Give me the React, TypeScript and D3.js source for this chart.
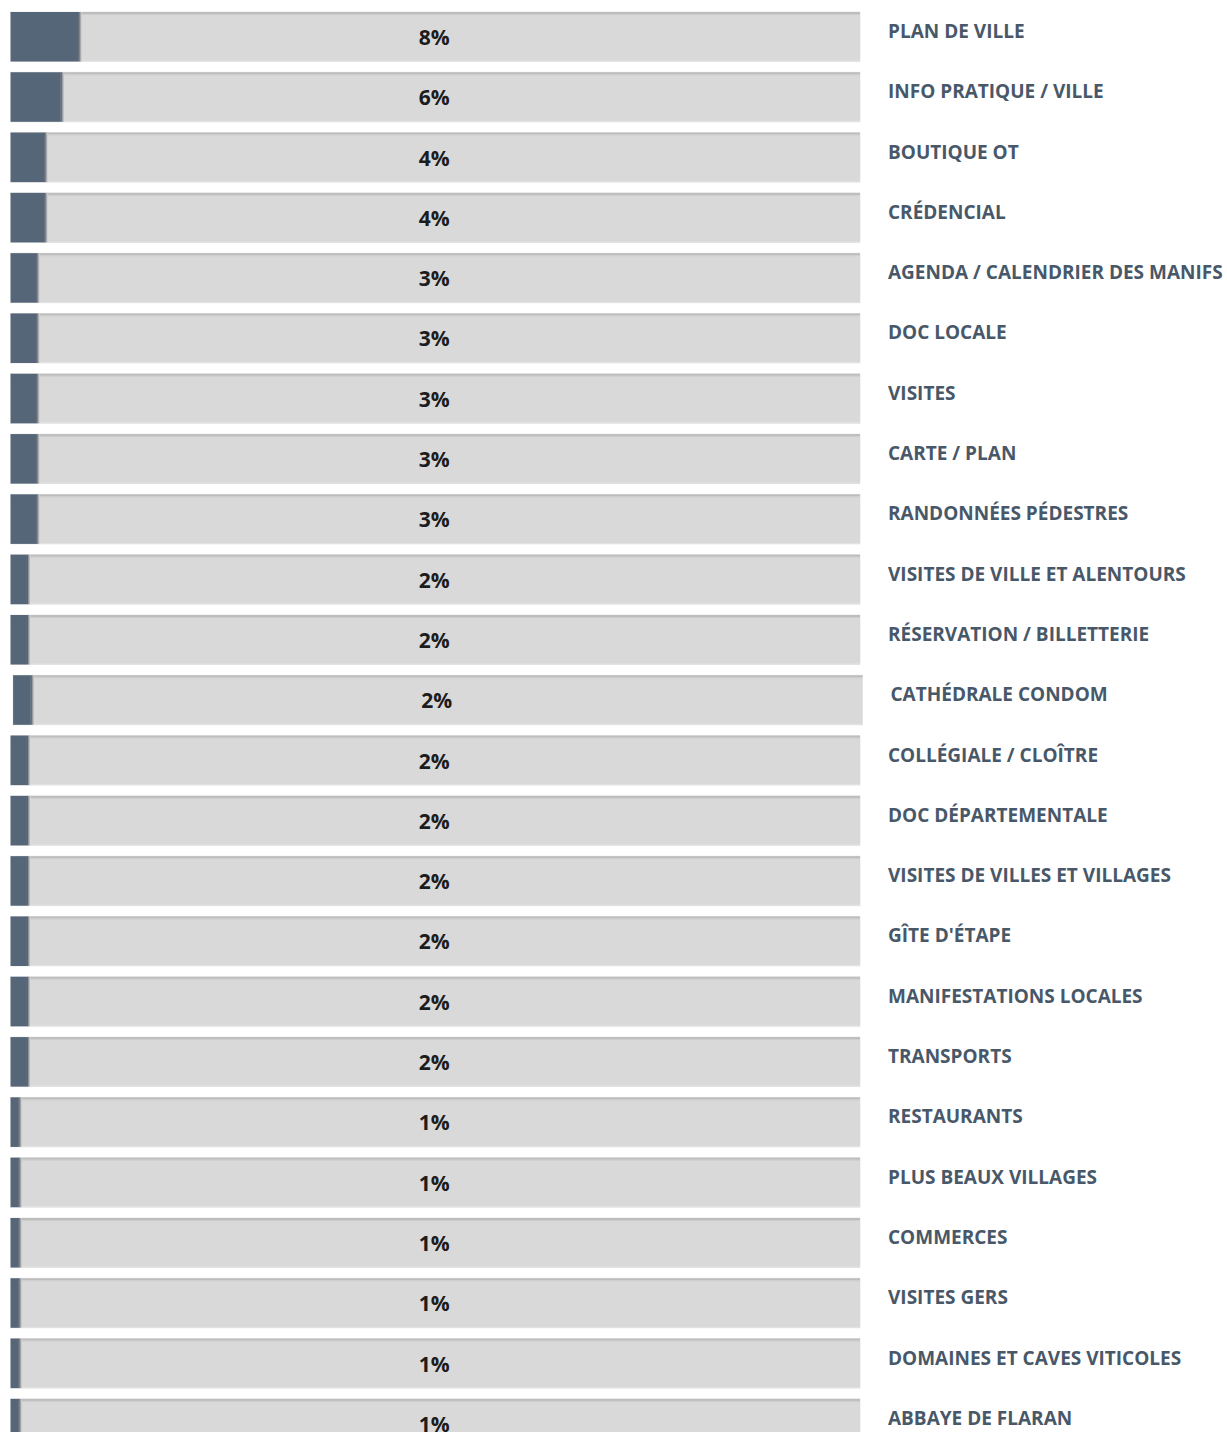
import React from "react";
import * as d3 from "d3";

const categories = [
  "PLAN DE VILLE",
  "INFO PRATIQUE / VILLE",
  "BOUTIQUE OT",
  "CRÉDENCIAL",
  "AGENDA / CALENDRIER DES MANIFS",
  "DOC LOCALE",
  "VISITES",
  "CARTE / PLAN",
  "RANDONNÉES PÉDESTRES",
  "VISITES DE VILLE ET ALENTOURS",
  "RÉSERVATION / BILLETTERIE",
  "CATHÉDRALE CONDOM",
  "COLLÉGIALE / CLOÎTRE",
  "DOC DÉPARTEMENTALE",
  "VISITES DE VILLES ET VILLAGES",
  "GÎTE D'ÉTAPE",
  "MANIFESTATIONS LOCALES",
  "TRANSPORTS",
  "RESTAURANTS",
  "PLUS BEAUX VILLAGES",
  "COMMERCES",
  "VISITES GERS",
  "DOMAINES ET CAVES VITICOLES",
  "ABBAYE DE FLARAN",
];

const values = [
  8.15, 6.07, 4.15, 4.15, 3.2, 3.2, 3.2, 3.2, 3.2, 2.1, 2.1, 2.25, 2.1, 2.1,
  2.1, 2.1, 2.1, 2.1, 1.1, 1.1, 1.1, 1.1, 1.1, 1.1,
];

const W = 1227;
const H = 1432;
const SHIFTED_ROW = 11;
const SHIFT_PX = 2.5;

export default function App() {
  const x = d3.scaleLinear().domain([0, 100]).range([10.6, 860]);
  const y = d3
    .scaleBand<string>()
    .domain(categories)
    .range([12, 12 + 23 * 60.3 + 49.5])
    .paddingInner(0.179)
    .paddingOuter(0);
  const bh = y.bandwidth();

  return (
    <div style={{ position: "absolute", left: 0, top: 0 }}>
      <svg width={W} height={H} style={{ display: "block" }}>
        <defs>
          <linearGradient id="shadowR" x1="0" x2="1" y1="0" y2="0">
            <stop offset="0" stopColor="#3c4754" />
            <stop offset="0.4" stopColor="#8a8f96" />
            <stop offset="1" stopColor="#d8d8d9" />
          </linearGradient>
        </defs>
        <rect x={0} y={0} width={W} height={H} fill="#ffffff" />
        {categories.map((c, i) => {
          const top = y(c) as number;
          const dx = i === SHIFTED_ROW ? SHIFT_PX : 0;
          const x0 = x(0);
          const x1 = x(100);
          const xe = x(values[i]);
          return (
            <g key={c} transform={`translate(${dx},${top})`}>
              <rect x={x0 - 0.5} y={-0.5} width={x1 - x0 + 1} height={bh + 1} fill="#ececec" />
              <rect x={x0} y={0} width={x1 - x0} height={bh} fill="#d9d9da" />
              <rect x={x0} y={0} width={x1 - x0} height={2} fill="#bdbdbe" />
              <rect x={x0} y={2} width={x1 - x0} height={1} fill="#cdcdce" />
              <rect x={x0} y={bh - 1} width={x1 - x0} height={1} fill="#e3e3e3" />
              <rect x={x0} y={0} width={xe - x0 - 1.5} height={bh} fill="#566679" />
              <rect x={xe - 1.5} y={0} width={3.5} height={bh} fill="url(#shadowR)" />
              <text
                x={(x0 + x1) / 2 - 1}
                y={33}
                textAnchor="middle"
                fontFamily="'Open Sans', sans-serif"
                fontWeight={700}
                fontSize={21}
                fill="#1c1c1c"
              >
                {`${Math.round(values[i])}%`}
              </text>
              <text
                x={888}
                y={26}
                fontFamily="'Open Sans', sans-serif"
                fontWeight={700}
                fontSize={19}
                fill="#485869"
              >
                {c}
              </text>
            </g>
          );
        })}
      </svg>
    </div>
  );
}
